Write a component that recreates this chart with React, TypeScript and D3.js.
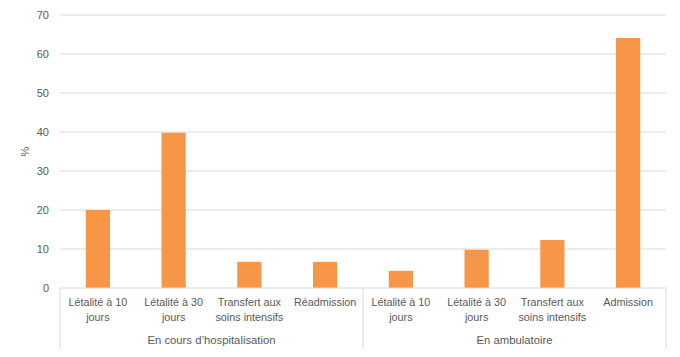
import React from "react";
import * as d3 from "d3";

const categories = [
  ["Létalité à 10", "jours"],
  ["Létalité à 30", "jours"],
  ["Transfert aux", "soins intensifs"],
  ["Réadmission"],
  ["Létalité à 10", "jours"],
  ["Létalité à 30", "jours"],
  ["Transfert aux", "soins intensifs"],
  ["Admission"],
];
const groups = ["En cours d’hospitalisation", "En ambulatoire"];
const groupSizes = [4, 4];
const values = [20, 39.8, 6.7, 6.7, 4.4, 9.8, 12.3, 64.1];
const yTicks = [0, 10, 20, 30, 40, 50, 60, 70];

const W = 680, H = 357;
const left = 60, right = 666, top = 15, bottom = 288;
const font = "'Liberation Sans', Arial, sans-serif";
const textColor = "#595959";

export default function App() {
  const x = d3.scaleBand<number>().domain(d3.range(values.length)).range([left, right]).paddingInner(0).paddingOuter(0);
  const y = d3.scaleLinear().domain([0, 70]).range([bottom, top]);
  const barW = x.bandwidth() * 0.32;
  let acc = 0;
  const groupBounds = groupSizes.map((n) => {
    const s = acc; acc += n;
    return [s, acc];
  });
  return (
    <svg width={W} height={H} style={{ position: "absolute", left: 0, top: 0, background: "#fff" }}>
      {yTicks.map((t) => (
        <g key={t}>
          {t > 0 && <line x1={left} x2={right} y1={y(t)} y2={y(t)} stroke="#D9D9D9" strokeWidth={1} />}
          <text x={49} y={y(t)} dy="0.35em" textAnchor="end" fontSize={11} fontFamily={font} fill={textColor}>{t}</text>
        </g>
      ))}
      <text transform={`translate(29,${(top + bottom) / 2}) rotate(-90)`} textAnchor="middle" fontSize={11} fontFamily={font} fill={textColor}>%</text>
      {values.map((v, i) => (
        <rect key={i} x={x(i)! + (x.bandwidth() - barW) / 2} y={y(v)} width={barW} height={bottom - y(v)} fill="#F79646" />
      ))}
      <line x1={left} x2={right} y1={bottom} y2={bottom} stroke="#D9D9D9" />
      {[0, ...groupBounds.map((g) => g[1])].map((b, i) => {
        const xx = b === values.length ? right : x(b)!;
        return <line key={i} x1={xx} x2={xx} y1={bottom} y2={349} stroke="#D9D9D9" />;
      })}
      {categories.map((lines, i) => (
        <text key={i} textAnchor="middle" fontSize={10.8} fontFamily={font} fill={textColor}>
          {lines.map((l, j) => (
            <tspan key={j} x={x(i)! + x.bandwidth() / 2} y={306 + j * 15}>{l}</tspan>
          ))}
        </text>
      ))}
      {groups.map((g, i) => {
        const [s, e] = groupBounds[i];
        const x0 = x(s)!;
        const x1 = e === values.length ? right : x(e)!;
        return <text key={g} x={(x0 + x1) / 2} y={344} textAnchor="middle" fontSize={11.3} fontFamily={font} fill={textColor}>{g}</text>;
      })}
    </svg>
  );
}
